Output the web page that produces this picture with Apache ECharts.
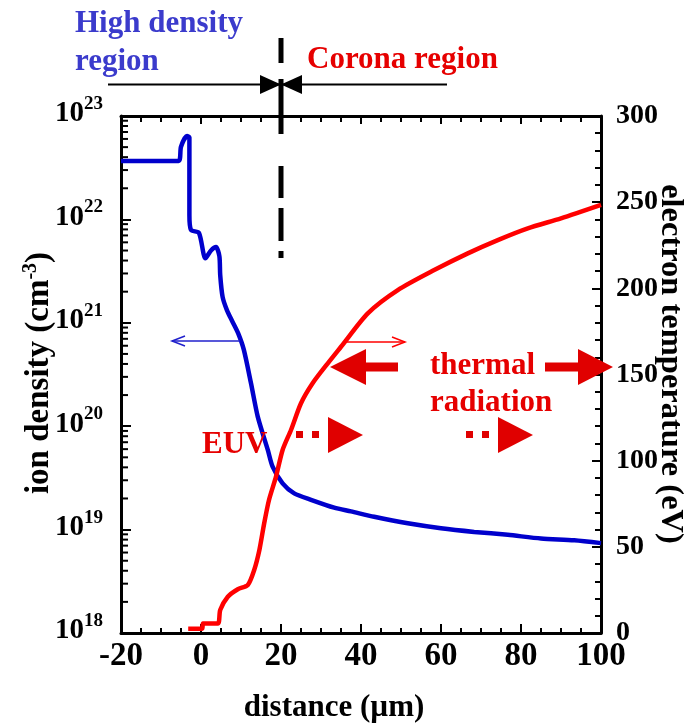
<!DOCTYPE html>
<html>
<head>
<meta charset="utf-8">
<script src="https://cdn.jsdelivr.net/npm/echarts@6/dist/echarts.min.js"></script>
<style>html,body{margin:0;padding:0;background:#fff}#c{width:694px;height:725px}</style>
</head>
<body>
<div id="c"></div>
<script>
// ---- data ----
// ion density (cm^-3) vs distance (um)
const densityX = [-20, -5.6, -5, -3.5, -2.9, -2.9, -2.5, -0.5, 1.1, 2.5, 3.75, 4.6, 4.8, 5.4, 6.5, 7.9, 9.3, 10.7, 12.5, 14.2, 16.7, 17.9, 20.4, 23.3, 27.5, 33.3, 37.5, 43.3, 51.7, 60, 68.3, 76.7, 85, 93.3, 100];
const densityY = [3.67e22, 3.67e22, 5.05e22, 6.4e22, 6.2e22, 1.1e22, 7.9e21, 7.4e21, 4.2e21, 5.0e21, 5.4e21, 4.4e21, 2.9e21, 1.78e21, 1.32e21, 1.02e21, 7.9e20, 5.5e20, 2.6e20, 1.23e20, 5.9e19, 4.06e19, 2.8e19, 2.24e19, 1.94e19, 1.63e19, 1.5e19, 1.33e19, 1.15e19, 1.03e19, 9.5e18, 8.9e18, 8.2e18, 7.9e18, 7.4e18];
// electron temperature (eV) vs distance (um)
const tempX = [-3.2, 0.3, 0.5, 4.2, 4.8, 6.7, 9.2, 11.7, 13.3, 14.6, 15.8, 17, 18.75, 20.4, 22.5, 25, 27.9, 31.7, 35, 41.7, 49.2, 58.3, 66.7, 74.2, 81.7, 90, 100];
const tempY = [2.5, 2.5, 5.5, 5.5, 13.3, 21, 25.4, 27.9, 36.6, 48.2, 63.7, 77.2, 90.7, 106.2, 117.8, 133.3, 144.9, 156.5, 166.1, 185.5, 199, 210.6, 220.3, 228, 234.8, 240.6, 248.4];
// axes
const xTicks = [-20, 0, 20, 40, 60, 80, 100];
const densityDecades = [18, 19, 20, 21, 22, 23];
const tempTicks = [0, 50, 100, 150, 200, 250, 300];
const boundaryX = 20;

const FONT = '"Liberation Serif","Times New Roman",serif';
const RED = '#e60000';
const BLUE_TXT = '#3b3bcc';

const densityData = densityX.map((x, i) => [x, densityY[i]]);
const tempData = tempX.map((x, i) => [x, tempY[i]]);
// log minor tick positions (2..9 of each decade)
const minorLog = [];
for (let d = densityDecades[0]; d < densityDecades[densityDecades.length - 1]; d++) {
  for (let k = 2; k <= 9; k++) minorLog.push([xTicks[0], k * Math.pow(10, d)]);
}

const chart = echarts.init(document.getElementById('c'), null, {renderer: 'canvas'});

chart.setOption({
  animation: false,
  grid: {left: 121, right: 93, top: 116, bottom: 92, containLabel: false},
  xAxis: [{
    type: 'value', min: xTicks[0], max: xTicks[xTicks.length - 1], interval: 20,
    position: 'bottom',
    axisLine: {show: true, onZero: false, lineStyle: {color: '#000', width: 3}},
    axisTick: {show: true, inside: true, length: 9, lineStyle: {color: '#000', width: 2}},
    minorTick: {show: true, splitNumber: 4, length: 5, lineStyle: {color: '#000', width: 2}},
    splitLine: {show: false},
    axisLabel: {margin: 7, fontFamily: FONT, fontWeight: 'bold', fontSize: 33, color: '#000'}
  }, {
    type: 'value', min: xTicks[0], max: xTicks[xTicks.length - 1], interval: 20,
    position: 'top',
    axisLine: {show: true, onZero: false, lineStyle: {color: '#000', width: 3}},
    axisTick: {show: true, inside: true, length: 8, lineStyle: {color: '#000', width: 2}},
    minorTick: {show: true, splitNumber: 4, length: 6, lineStyle: {color: '#000', width: 2}},
    splitLine: {show: false},
    axisLabel: {show: false}
  }],
  yAxis: [{
    type: 'log', logBase: 10, min: 1e18, max: 1e23,
    position: 'left',
    axisLine: {show: true, onZero: false, lineStyle: {color: '#000', width: 3}},
    axisTick: {show: true, inside: true, length: 10, lineStyle: {color: '#000', width: 2}},
    splitLine: {show: false},
    axisLabel: {
      margin: 18,
      formatter: v => '{b|10}{s|' + Math.round(Math.log10(v)) + '}',
      padding: [0, 0, 9, 0],
      rich: {
        b: {fontFamily: FONT, fontWeight: 'bold', fontSize: 29, lineHeight: 34, verticalAlign: 'bottom', color: '#000'},
        s: {fontFamily: FONT, fontWeight: 'bold', fontSize: 19, verticalAlign: 'top', color: '#000'}
      }
    }
  }, {
    type: 'value', min: tempTicks[0], max: tempTicks[tempTicks.length - 1], interval: 50,
    position: 'right',
    axisLine: {show: true, onZero: false, lineStyle: {color: '#000', width: 3}},
    axisTick: {show: true, inside: true, length: 9, lineStyle: {color: '#000', width: 2}},
    minorTick: {show: true, splitNumber: 5, length: 6, lineStyle: {color: '#000', width: 2}},
    splitLine: {show: false},
    axisLabel: {margin: 15, fontFamily: FONT, fontWeight: 'bold', fontSize: 28, color: '#000'}
  }],
  series: [{
    type: 'line', name: 'ion density', xAxisIndex: 0, yAxisIndex: 0,
    data: densityData, showSymbol: false, smooth: 0.25,
    lineStyle: {color: '#0000cc', width: 4.5}, z: 3
  }, {
    type: 'line', name: 'electron temperature', xAxisIndex: 0, yAxisIndex: 1,
    data: tempData, showSymbol: false, smooth: 0.25,
    lineStyle: {color: '#ff0000', width: 4.5}, z: 3
  }, {
    type: 'custom', name: 'log minor ticks', xAxisIndex: 0, yAxisIndex: 0,
    data: minorLog, silent: true, clip: false, z: 5,
    renderItem: (params, api) => {
      const p = api.coord([api.value(0), api.value(1)]);
      return {type: 'line', shape: {x1: p[0], y1: p[1], x2: p[0] + 7, y2: p[1]},
              style: {stroke: '#000', lineWidth: 2}};
    }
  }]
});

// annotations
const bx = chart.convertToPixel({xAxisIndex: 0}, boundaryX);
const g = [];
const txt = (text, x, y, color) => ({
  type: 'text', x: x, y: y, z: 10,
  style: {text: text, fill: color, font: 'bold 31px ' + FONT, textAlign: 'left', textVerticalAlign: 'middle'}
});
g.push(txt('High density', 75, 24, BLUE_TXT));
g.push(txt('region', 75, 62, BLUE_TXT));
g.push(txt('Corona region', 307, 60, RED));
g.push(txt('thermal', 430, 366, RED));
g.push(txt('radiation', 430, 403, RED));
g.push(txt('EUV', 202, 445, RED));
// axis titles
g.push({type: 'text', x: 334, y: 708, z: 10,
  style: {text: 'distance (\u00b5m)', fill: '#000', font: 'bold 31px ' + FONT, textAlign: 'center', textVerticalAlign: 'middle'}});
g.push({type: 'text', x: 38, y: 373, rotation: Math.PI / 2, z: 10,
  style: {text: '{t|ion density (cm}{s|-3}{t|)}', textAlign: 'center', textVerticalAlign: 'middle',
    rich: {t: {font: 'bold 33px ' + FONT, fill: '#000', lineHeight: 35, verticalAlign: 'bottom'},
           s: {font: 'bold 20px ' + FONT, fill: '#000', verticalAlign: 'top'}}}});
g.push({type: 'text', x: 670, y: 364, rotation: -Math.PI / 2, z: 10,
  style: {text: 'electron temperature (eV)', fill: '#000', font: 'bold 32.5px ' + FONT, textAlign: 'center', textVerticalAlign: 'middle'}});

// boundary double arrow + dashed line
g.push({type: 'line', z: 10, shape: {x1: 108, y1: 84.5, x2: 447, y2: 84.5}, style: {stroke: '#000', lineWidth: 2}});
g.push({type: 'polygon', z: 10, shape: {points: [[bx - 21, 75], [bx - 21, 94], [bx, 84.5]]}, style: {fill: '#000'}});
g.push({type: 'polygon', z: 10, shape: {points: [[bx + 21, 75], [bx + 21, 94], [bx, 84.5]]}, style: {fill: '#000'}});
g.push({type: 'line', z: 10, shape: {x1: bx, y1: 38, x2: bx, y2: 258}, style: {stroke: '#000', lineWidth: 5, lineDash: [25, 16, 55, 32, 32, 10, 33, 10]}});

// thin arrows
g.push({type: 'polyline', z: 10, shape: {points: [[240, 341], [172, 341]]}, style: {stroke: '#2020cc', lineWidth: 1.5}});
g.push({type: 'polyline', z: 10, shape: {points: [[185, 336], [172, 341], [185, 346]]}, style: {stroke: '#2020cc', lineWidth: 1.5, fill: null}});
g.push({type: 'polyline', z: 10, shape: {points: [[343, 342], [405, 342]]}, style: {stroke: '#ff0000', lineWidth: 1.5}});
g.push({type: 'polyline', z: 10, shape: {points: [[392, 337], [405, 342], [392, 347]]}, style: {stroke: '#ff0000', lineWidth: 1.5, fill: null}});

// thick thermal-radiation arrows
g.push({type: 'polygon', z: 10, shape: {points: [[330, 367], [366, 349], [366, 362.5], [398, 362.5], [398, 371.5], [366, 371.5], [366, 385]]}, style: {fill: '#e00000'}});
g.push({type: 'polygon', z: 10, shape: {points: [[613, 367], [578, 349], [578, 362.5], [545, 362.5], [545, 371.5], [578, 371.5], [578, 385]]}, style: {fill: '#e00000'}});

// dotted EUV arrows
const dotted = (x0) => {
  g.push({type: 'rect', z: 10, shape: {x: x0, y: 431, width: 7, height: 7}, style: {fill: '#e00000'}});
  g.push({type: 'rect', z: 10, shape: {x: x0 + 16, y: 431, width: 7, height: 7}, style: {fill: '#e00000'}});
  g.push({type: 'polygon', z: 10, shape: {points: [[x0 + 32, 417], [x0 + 32, 453], [x0 + 67, 435]]}, style: {fill: '#e00000'}});
};
dotted(296);
dotted(466);

chart.setOption({graphic: g});
</script>
</body>
</html>
